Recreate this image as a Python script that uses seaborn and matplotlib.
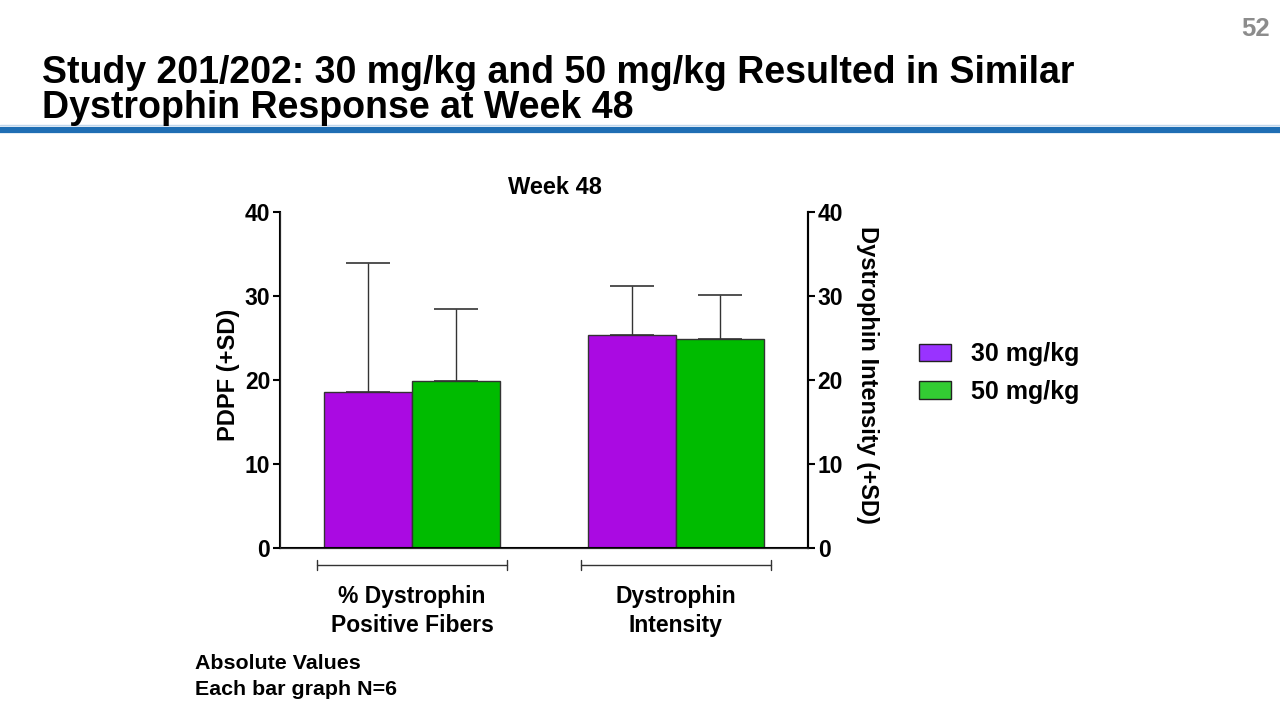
import pandas as pd
import matplotlib
matplotlib.use("Agg")
import matplotlib.pyplot as plt
import matplotlib.patches as mpatches
import seaborn as sns

# values
measures = ["% Dystrophin\nPositive Fibers", "Dystrophin\nIntensity"]
doses = ["30 mg/kg", "50 mg/kg"]
mean_30 = [18.6, 25.3]
mean_50 = [19.9, 24.9]
sd_30 = [15.3, 5.9]
sd_50 = [8.6, 5.2]
bar_colors = ["#AA0AE2", "#00BB00"]
legend_colors = ["#9933FF", "#33CC33"]

sns.set_style("ticks")
plt.rcParams["font.family"] = ["Liberation Sans", "DejaVu Sans"]
plt.rcParams["font.weight"] = "bold"
for k in ["text.color", "axes.labelcolor", "xtick.color", "ytick.color"]:
    plt.rcParams[k] = "black"

df = pd.DataFrame({
    "measure": measures * 2,
    "dose": [doses[0]] * 2 + [doses[1]] * 2,
    "mean": mean_30 + mean_50,
})

fig = plt.figure(figsize=(12.8, 7.2), dpi=100)
ax = fig.add_axes([0.21875, 0.2389, 0.4125, 0.4667])

sns.barplot(data=df, x="measure", y="mean", hue="dose", palette=bar_colors,
            saturation=1, width=0.667, edgecolor="#333333", linewidth=1,
            legend=False, ax=ax)

# upper-only SD whiskers
for cont, sds in zip(ax.containers, [sd_30, sd_50]):
    for bar, sd in zip(cont, sds):
        xc = bar.get_x() + bar.get_width() / 2
        ax.errorbar(xc, bar.get_height(), yerr=[[0], [sd]], fmt="none",
                    ecolor="#333333", elinewidth=1, capsize=16, capthick=1.2)

ax.set_xlim(-0.5, 1.5)
ax.set_ylim(0, 40)
ax.set_yticks([0, 10, 20, 30, 40])
ax.set_xticks([])
ax.set_xlabel("")
ax.set_ylabel("PDPF (+SD)", fontsize=17, fontweight="bold", va="center")
ax.yaxis.set_label_coords(-0.098, 0.515)
ax.tick_params(axis="y", labelsize=16.5, width=1.5, length=5, pad=2)
for lbl in ax.get_yticklabels():
    lbl.set_fontweight("bold")
ax.spines["top"].set_visible(False)
for s in ["left", "right", "bottom"]:
    ax.spines[s].set_linewidth(1.5)
    ax.spines[s].set_color("black")

ax2 = ax.twinx()
ax2.set_ylim(0, 40)
ax2.set_yticks([0, 10, 20, 30, 40])
ax2.tick_params(axis="y", labelsize=16.5, width=1.5, length=5, pad=2)
for lbl in ax2.get_yticklabels():
    lbl.set_fontweight("bold")
ax2.set_ylabel("Dystrophin Intensity (+SD)", fontsize=17, fontweight="bold",
               rotation=270, va="center")
ax2.yaxis.set_label_coords(1.113, 0.515)
ax2.spines["top"].set_visible(False)
ax2.spines["right"].set_linewidth(1.5)
ax2.spines["right"].set_color("black")

ax.text(0.521, 1.072, "Week 48", transform=ax.transAxes, ha="center",
        va="center", fontsize=17, fontweight="bold")

# group brackets and labels under the axis
trans = ax.get_xaxis_transform()
for i, name in enumerate(measures):
    ax.plot([i - 0.36, i + 0.36], [-0.05, -0.05], color="#333333", lw=1,
            transform=trans, clip_on=False)
    for xe in (i - 0.36, i + 0.36):
        ax.plot([xe, xe], [-0.065, -0.035], color="#333333", lw=1,
                transform=trans, clip_on=False)
    ax.text(i, -0.188, name, transform=trans, ha="center", va="center",
            fontsize=16.5, fontweight="bold", linespacing=1.36)

handles = [mpatches.Patch(facecolor=c, edgecolor="#222222", label=d)
           for c, d in zip(legend_colors, doses)]
fig.legend(handles=handles, loc="upper left", bbox_to_anchor=(0.7, 0.556),
           frameon=False, prop={"size": 18, "weight": "bold"},
           handlelength=1.3, handleheight=0.7, handletextpad=0.8, labelspacing=0.55)

fig.text(0.033, 0.874, "Study 201/202: 30 mg/kg and 50 mg/kg Resulted in Similar\n"
         "Dystrophin Response at Week 48", fontsize=27, fontweight="bold",
         va="center", ha="left", linespacing=0.95)
fig.text(0.992, 0.96, "52", fontsize=18.5, fontweight="bold", color="#8C8C8C",
         ha="right", va="center")
fig.add_artist(plt.Line2D([0, 1], [0.819, 0.819], color="#1F6EB4", lw=4.5))
fig.add_artist(plt.Line2D([0, 1], [0.826, 0.826], color="#BFD6EC", lw=1))

fig.text(0.152, 0.061, "Absolute Values\nEach bar graph N=6", fontsize=15.4,
         fontweight="bold", ha="left", va="center", linespacing=1.47)

fig.savefig("out.png", dpi=100)
